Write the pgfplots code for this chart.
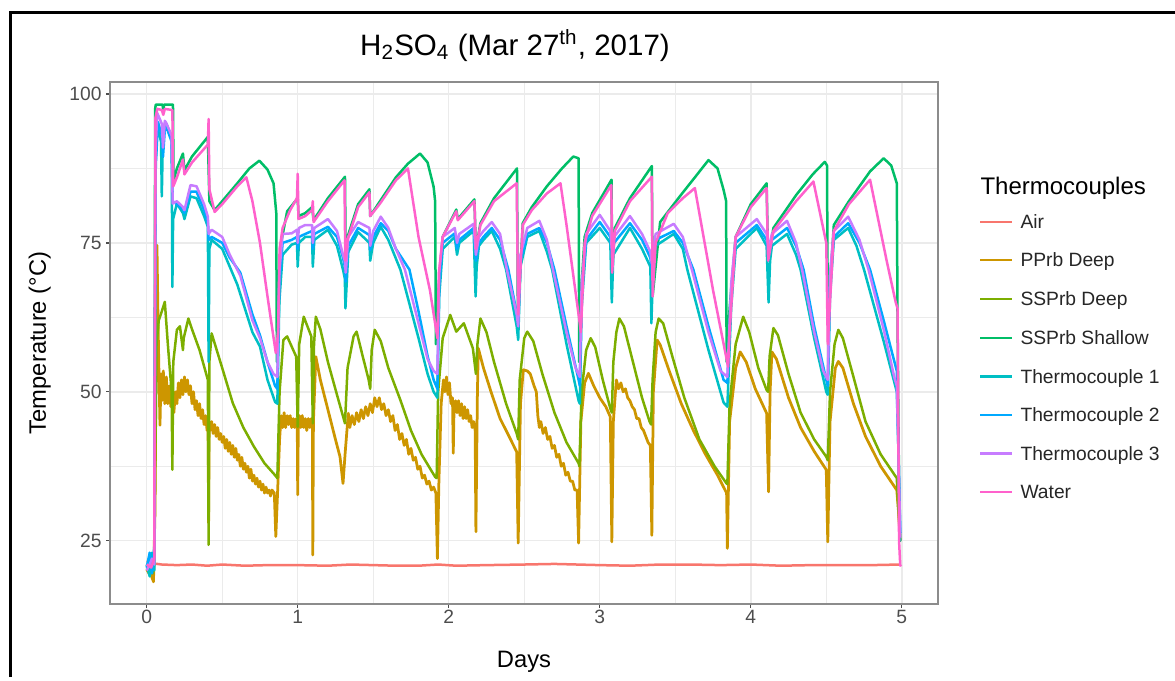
\documentclass[border=0pt]{standalone}
\usepackage{fontspec}
\setmainfont{Liberation Sans}
\usepackage{pgfplots}
\pgfplotsset{compat=1.18}

\definecolor{cAir}{HTML}{F8766D}
\definecolor{cPPrb}{HTML}{CD9600}
\definecolor{cSSDeep}{HTML}{7CAE00}
\definecolor{cSSShal}{HTML}{00BE67}
\definecolor{cTCa}{HTML}{00BFC4}
\definecolor{cTCb}{HTML}{00A9FF}
\definecolor{cTCc}{HTML}{C77CFF}
\definecolor{cWater}{HTML}{FF61CC}
\definecolor{gridc}{HTML}{EBEBEB}
\definecolor{borderc}{HTML}{8C8C8C}
\definecolor{tickc}{HTML}{4D4D4D}

\begin{document}
\begin{tikzpicture}
% frame of the picture, in pixel units (y downwards)
\begin{scope}[x=0.4pt,y=-0.4pt]
  \useasboundingbox (0,0) rectangle (1175,677);
  \draw[line width=1.2pt] (10,677) -- (10,12) -- (1175,12);
  \node[anchor=base, font=\fontsize{11.8}{13}\selectfont] at (515,55)
    {H\textsubscript{2}SO\textsubscript{4} (Mar 27\textsuperscript{th}, 2017)};
\end{scope}

\begin{axis}[
    at={(44pt,-241.6pt)}, anchor=south west,
    scale only axis, width=331.2pt, height=208.8pt,
    xmin=-0.243, xmax=5.24, ymin=14.37, ymax=102.01,
    xtick={0,1,2,3,4,5}, ytick={25,50,75,100},
    minor xtick={0.5,1.5,2.5,3.5,4.5}, minor ytick={37.5,62.5,87.5},
    grid=both,
    major grid style={color=gridc, line width=0.6pt},
    minor grid style={color=gridc, line width=0.3pt},
    axis line style={color=borderc, line width=0.7pt},
    tick align=outside, xtick pos=bottom, ytick pos=left,
    major tick length=1.6pt, minor tick length=0pt,
    tick style={color=tickc, line width=0.5pt},
    ticklabel style={font=\fontsize{7.7}{9}\selectfont, text=tickc},
    xticklabel style={inner sep=0.6pt},
    yticklabel style={inner sep=1.6pt},
    /pgf/number format/assume math mode=true,
    xlabel={Days}, ylabel={Temperature (\textdegree C)},
    label style={font=\fontsize{9.5}{11}\selectfont},
    xlabel style={at={(axis description cs:0.5,-0.1207)}, anchor=base},
    ylabel style={at={(axis description cs:-0.0773,0.5)}, anchor=base},
    every axis plot/.append style={line width=1.0pt, line join=round, mark=none},
]

% Air
\addplot[cAir] coordinates {
(0.00,21.6) (0.04,21.2) (0.10,21.0) (0.20,20.9) (0.30,21.0) (0.40,20.8) (0.50,21.0)
(0.65,20.8) (0.80,20.9) (1.00,20.9) (1.20,20.8) (1.35,21.0) (1.50,20.9) (1.65,20.8)
(1.80,20.8) (1.93,21.0) (2.05,20.8) (2.25,20.9) (2.50,21.0) (2.70,21.1) (2.85,21.0)
(3.00,20.9) (3.20,20.8) (3.40,21.0) (3.60,21.0) (3.80,20.9) (4.00,21.0) (4.20,20.8)
(4.40,20.9) (4.60,20.9) (4.80,20.9) (4.99,21.0)
};

% PPrb Deep
\addplot[cPPrb, line width=1.1pt] coordinates {
(0,20.2) (0.015,19.5) (0.03,19.2) (0.045,18.1) (0.055,30) (0.068,74.6) (0.075,62) (0.082,52)
(0.088,44.4) (0.095,53) (0.10,48.5) (0.11,53.5) (0.12,48) (0.13,52.5) (0.14,48) (0.15,51)
(0.16,47.5) (0.17,49.5) (0.18,46.5) (0.19,50) (0.20,48) (0.21,51.5) (0.22,49) (0.23,52)
(0.24,49.5) (0.25,52.5) (0.26,50) (0.27,52) (0.28,49.5) (0.29,51) (0.30,48) (0.31,50)
(0.32,47) (0.33,48.5) (0.34,46) (0.35,48) (0.36,45.5) (0.37,47) (0.38,44.5) (0.39,46)
(0.40,43.5) (0.406,45) (0.41,28) (0.414,45) (0.42,43.5) (0.43,45) (0.44,43) (0.45,44.5)
(0.46,42.5) (0.47,44) (0.48,42) (0.49,43) (0.50,41.5) (0.51,42.5) (0.52,40.5) (0.53,42)
(0.54,40) (0.55,41.5) (0.56,39.5) (0.57,41) (0.58,39) (0.59,40.5) (0.60,38.5) (0.61,39.5)
(0.62,37.5) (0.63,39) (0.64,37) (0.65,38) (0.66,36.5) (0.67,37.5) (0.68,35.5) (0.69,37)
(0.70,35) (0.71,36) (0.72,34.5) (0.73,35.5) (0.74,34) (0.75,35) (0.76,33.5) (0.77,34.5)
(0.78,33) (0.79,34) (0.80,33) (0.81,33.5) (0.82,32.5) (0.83,33.5) (0.845,33) (0.855,25.7)
(0.865,32) (0.88,42) (0.89,46) (0.90,44) (0.91,46.5) (0.92,44) (0.93,46) (0.94,44.5)
(0.95,46) (0.96,44) (0.97,45.5) (0.98,44) (0.99,45.5) (0.997,44.5) (1.0,32.7) (1.004,44.5)
(1.01,46) (1.02,44) (1.03,46) (1.04,44) (1.05,45.5) (1.06,43.5) (1.07,45.5) (1.08,44)
(1.09,45.5) (1.097,44.5) (1.1,22.6) (1.104,45) (1.12,55.9) (1.15,52) (1.2,47) (1.25,42)
(1.28,39.1) (1.3,34.6) (1.315,40) (1.335,46.4) (1.345,44) (1.36,46) (1.375,44.5) (1.39,46.5)
(1.405,45) (1.42,47) (1.435,45.5) (1.45,47.5) (1.465,46) (1.48,48) (1.495,46.5) (1.51,49)
(1.525,47.5) (1.54,49) (1.555,47) (1.57,48) (1.585,46) (1.6,47) (1.615,45) (1.63,46)
(1.645,43.5) (1.66,44.5) (1.675,42) (1.69,43) (1.705,41) (1.72,42) (1.735,39.5) (1.75,40.5)
(1.765,38.5) (1.78,39) (1.795,37) (1.81,37.5) (1.825,35.5) (1.84,36) (1.855,34.5) (1.87,35)
(1.885,33.5) (1.9,34) (1.915,33) (1.925,22) (1.935,35) (1.95,48) (1.965,52) (1.975,50)
(1.985,52.5) (1.995,49.5) (2.005,51.5) (2.015,48) (2.025,49) (2.03,39.7) (2.035,47) (2.045,48.5)
(2.055,46.5) (2.065,48.5) (2.075,46) (2.085,48) (2.095,45.5) (2.105,47.5) (2.115,45.5) (2.125,47)
(2.135,45) (2.145,46) (2.155,44) (2.165,45) (2.175,43.5) (2.18,26.5) (2.19,50) (2.196,57.3)
(2.23,54) (2.28,50) (2.34,45.5) (2.4,42.5) (2.45,39.9) (2.46,24.6) (2.475,48) (2.494,53.7)
(2.52,53.5) (2.54,53) (2.565,51) (2.58,50) (2.59,46) (2.6,44) (2.61,45) (2.625,43)
(2.64,44) (2.655,42) (2.67,42.5) (2.685,40.5) (2.7,41) (2.715,39) (2.73,39.5) (2.745,37.5)
(2.76,38) (2.775,36) (2.79,36.5) (2.805,35) (2.82,35) (2.835,33.5) (2.85,33.5) (2.86,24.6)
(2.875,45) (2.9,51.5) (2.925,53.1) (2.96,51) (3.0,49) (3.04,47.5) (3.07,45.8) (3.08,24.8)
(3.09,45) (3.11,52) (3.125,50.5) (3.14,51.5) (3.155,50) (3.17,50.5) (3.185,49) (3.2,48.5)
(3.215,47.5) (3.23,47) (3.245,45.5) (3.26,45.5) (3.275,44) (3.29,43.5) (3.305,42.5) (3.32,41.5)
(3.335,41) (3.345,25.9) (3.355,50) (3.38,58.7) (3.4,57.9) (3.46,53.5) (3.54,48) (3.62,43.5)
(3.7,39.5) (3.78,36) (3.84,33) (3.845,23.7) (3.86,45) (3.9,54) (3.93,56.7) (3.97,55)
(4.03,50.5) (4.105,46.4) (4.118,33.2) (4.128,50) (4.14,56.7) (4.17,55.5) (4.25,49) (4.33,44)
(4.42,40) (4.5,36.9) (4.51,24.8) (4.525,45) (4.56,54) (4.58,55.1) (4.61,54) (4.68,48)
(4.76,42.5) (4.86,37.5) (4.967,33.5) (4.978,30) (4.99,25)
};

% SSPrb Deep
\addplot[cSSDeep] coordinates {
(0,20.5) (0.04,19.5) (0.05,21) (0.065,58) (0.08,62) (0.1,63.5) (0.12,65.1) (0.14,58)
(0.165,50) (0.17,36.9) (0.176,55) (0.2,60.4) (0.22,61) (0.24,57) (0.245,59) (0.276,62.3)
(0.3,60.5) (0.35,57) (0.405,52) (0.41,24.3) (0.415,55) (0.43,59.8) (0.5,54) (0.57,48.1)
(0.64,44) (0.71,40.8) (0.78,38) (0.85,36) (0.865,35.5) (0.88,50) (0.905,58.7) (0.93,59.3)
(0.99,55.9) (1.0,44.1) (1.01,58) (1.04,62.6) (1.09,59.3) (1.1,44.7) (1.108,58) (1.12,62.6)
(1.15,60.5) (1.2,55) (1.26,49.5) (1.313,44.7) (1.33,54) (1.37,59.3) (1.39,60.1) (1.43,56)
(1.47,52) (1.48,50.5) (1.49,57) (1.51,60.4) (1.55,58.5) (1.6,54) (1.68,48.6) (1.75,43.5)
(1.82,39.5) (1.91,35.7) (1.92,35.5) (1.93,50) (1.96,59) (2.01,62.9) (2.05,60.1) (2.1,61.5)
(2.16,57.3) (2.18,53) (2.19,58) (2.21,62.3) (2.25,60) (2.3,55) (2.38,48) (2.45,43)
(2.46,42) (2.47,52) (2.5,59) (2.52,60.1) (2.56,58.5) (2.62,53) (2.7,46.5) (2.78,41.5)
(2.86,38) (2.865,37.5) (2.88,50) (2.91,57) (2.94,59) (2.97,57.5) (3.02,52) (3.07,47.2)
(3.08,46.5) (3.09,55) (3.11,60) (3.13,62.3) (3.16,61) (3.22,55) (3.28,49) (3.33,45)
(3.34,44.5) (3.35,52) (3.37,60) (3.39,62.3) (3.42,61.5) (3.48,56) (3.56,49) (3.66,42)
(3.76,37.5) (3.84,34.6) (3.845,34.5) (3.86,48) (3.9,58) (3.95,62.6) (3.99,60) (4.05,54)
(4.105,50.3) (4.115,50) (4.125,56) (4.15,60.7) (4.18,59.5) (4.25,53) (4.33,46.5) (4.42,42)
(4.5,39.1) (4.51,38.5) (4.525,50) (4.555,58) (4.58,60.4) (4.61,59) (4.68,52.5) (4.76,45)
(4.86,39.5) (4.967,35.5) (4.978,30) (4.99,25)
};

% SSPrb Shallow
\addplot[cSSShal] coordinates {
(0,21) (0.04,20) (0.05,23) (0.056,97.5) (0.06,98.2) (0.105,98.2) (0.11,97.2) (0.115,98.2)
(0.174,98.2) (0.178,85.5) (0.2,87.5) (0.24,90) (0.25,87.2) (0.3,89.5) (0.405,92.8) (0.415,82)
(0.45,80.5) (0.5,82) (0.6,85) (0.68,87.5) (0.746,88.8) (0.8,87.3) (0.84,85) (0.858,80)
(0.862,55) (0.875,64) (0.89,75) (0.93,80.3) (1.0,82.5) (1.005,79.5) (1.05,80) (1.095,81)
(1.105,78.8) (1.2,82.5) (1.313,86.1) (1.318,72) (1.33,76) (1.4,81.5) (1.475,84) (1.48,79.5)
(1.545,82) (1.65,86) (1.73,88.3) (1.81,90) (1.86,88.5) (1.9,84.4) (1.91,82) (1.915,58)
(1.935,68) (1.96,76) (2.05,80.6) (2.06,79) (2.17,82.3) (2.18,74) (2.21,78.3) (2.3,82.5)
(2.452,87.5) (2.458,62) (2.49,78.3) (2.55,81) (2.65,84.5) (2.75,87.5) (2.825,89.5) (2.86,89.2)
(2.864,55) (2.88,68) (2.9,76) (2.95,80) (3.078,85.6) (3.082,70) (3.1,77.5) (3.2,82.5)
(3.345,87.9) (3.35,66) (3.4,78.5) (3.53,82.8) (3.63,86) (3.72,88.9) (3.78,87.5) (3.82,83.9)
(3.837,82) (3.84,55) (3.86,64) (3.9,76) (4.0,81.5) (4.105,85) (4.115,72) (4.15,77.5)
(4.3,83) (4.41,86.5) (4.49,88.6) (4.505,88) (4.51,62) (4.55,78) (4.65,82) (4.79,87)
(4.88,89.2) (4.93,88) (4.967,85) (4.972,62) (4.985,25) (4.995,25)
};

% Thermocouple 1
\addplot[cTCa] coordinates {
(0,21) (0.02,19) (0.035,23) (0.05,20) (0.058,88) (0.07,94.5) (0.095,92) (0.1,82.8)
(0.108,94) (0.13,95) (0.165,92.8) (0.17,67.6) (0.175,79) (0.2,81.6) (0.24,80) (0.25,79)
(0.29,82.8) (0.33,82.5) (0.38,79.5) (0.405,77.7) (0.41,55) (0.415,74) (0.43,75.5) (0.5,74)
(0.55,71) (0.6,68) (0.7,60) (0.75,57.6) (0.8,52) (0.85,48.3) (0.865,48) (0.878,65)
(0.9,73) (0.96,74.7) (0.995,75) (1.0,71) (1.008,75) (1.05,76) (1.095,76) (1.1,71)
(1.11,75.5) (1.2,77.2) (1.26,74.5) (1.3,70.5) (1.312,69) (1.316,64) (1.322,67) (1.335,73.5)
(1.4,76.8) (1.475,75) (1.48,72) (1.5,75) (1.55,77.7) (1.6,75.5) (1.68,70.5) (1.8,59)
(1.86,53) (1.9,50) (1.925,49) (1.937,66) (1.96,74) (2.04,76) (2.055,73) (2.07,75)
(2.165,77) (2.178,66) (2.185,71) (2.2,74.5) (2.23,75.5) (2.285,77) (2.34,74) (2.38,70.5)
(2.45,61) (2.46,58.7) (2.475,71) (2.52,76) (2.6,77) (2.65,73.5) (2.685,70.5) (2.78,58)
(2.86,48.5) (2.868,48) (2.88,64) (2.91,75) (3.0,77.5) (3.07,75) (3.08,65) (3.09,73)
(3.2,77.5) (3.28,74) (3.335,71) (3.342,61.5) (3.35,68) (3.37,74.5) (3.49,76.5) (3.55,74)
(3.58,70.5) (3.72,57) (3.82,48.2) (3.845,47.5) (3.87,64) (3.9,74) (4.04,77.5) (4.105,74.5)
(4.118,65) (4.128,72) (4.14,74.5) (4.24,76.5) (4.3,73) (4.33,70.5) (4.42,59) (4.5,50)
(4.51,49.5) (4.525,66) (4.55,75.5) (4.645,77.5) (4.7,74.5) (4.75,70.5) (4.88,58.5) (4.967,50)
(4.978,40) (4.99,25)
};

% Thermocouple 2
\addplot[cTCb] coordinates {
(0,20.5) (0.02,23) (0.035,19.5) (0.05,24) (0.06,88) (0.075,95.3) (0.1,93) (0.108,89.5)
(0.12,94) (0.13,94.5) (0.165,92) (0.172,82) (0.2,81.5) (0.24,80.6) (0.25,80) (0.29,83.6)
(0.33,83.6) (0.38,80.5) (0.405,78.3) (0.41,75.5) (0.43,76) (0.5,75) (0.55,72.5) (0.62,70)
(0.7,63) (0.75,59.5) (0.8,55) (0.85,51) (0.865,50.5) (0.878,68) (0.9,75) (0.96,75.5)
(0.995,76) (1.0,74) (1.008,76) (1.05,76.5) (1.095,77) (1.1,74) (1.11,76.5) (1.2,77.7)
(1.26,76) (1.3,72.5) (1.312,71) (1.318,68.5) (1.335,74.5) (1.4,77.5) (1.475,76.3) (1.48,73.8)
(1.5,76) (1.55,78.3) (1.6,77) (1.65,74) (1.74,70.5) (1.8,63.5) (1.86,56) (1.9,52)
(1.925,50.5) (1.937,68) (1.96,75) (2.04,76.6) (2.055,74) (2.07,75.5) (2.165,77.5) (2.18,72)
(2.2,75) (2.23,76) (2.285,77.5) (2.34,75.5) (2.395,70.5) (2.45,63.2) (2.46,61) (2.475,72)
(2.52,76.5) (2.6,77.5) (2.65,75) (2.70,70.5) (2.78,61) (2.86,52) (2.868,51) (2.88,66)
(2.91,75.5) (3.0,78.5) (3.07,76) (3.08,73) (3.095,75) (3.2,78.3) (3.28,75.5) (3.335,72.5)
(3.345,70.5) (3.37,75.5) (3.49,77) (3.55,75) (3.62,70.5) (3.72,61) (3.82,52) (3.845,51.5)
(3.87,66) (3.9,75) (4.04,78) (4.105,75.5) (4.118,73) (4.14,75.5) (4.24,77.5) (4.3,74.5)
(4.35,70.5) (4.42,61) (4.5,52) (4.51,51) (4.525,68) (4.55,76) (4.645,78.3) (4.72,75)
(4.79,70.5) (4.88,62) (4.967,53.5) (4.978,40) (4.99,26.3)
};

% Thermocouple 3
\addplot[cTCc] coordinates {
(0,20) (0.02,21) (0.035,22) (0.05,21) (0.058,90) (0.07,96.8) (0.1,95) (0.108,91)
(0.12,95.5) (0.13,95.1) (0.165,93) (0.172,81.6) (0.2,82) (0.24,81) (0.25,80.5) (0.29,84.7)
(0.33,84.5) (0.38,81.5) (0.405,79.4) (0.41,76.5) (0.43,77.2) (0.5,76) (0.55,73) (0.62,69.5)
(0.7,62) (0.75,59) (0.8,55) (0.84,53) (0.865,52.5) (0.878,70) (0.9,76.5) (0.96,76.6)
(0.995,77.2) (1.0,75) (1.008,77.5) (1.05,78) (1.095,78) (1.1,75) (1.11,77.5) (1.2,79)
(1.26,77) (1.3,73) (1.312,72) (1.318,70) (1.335,76) (1.4,78.5) (1.475,77.5) (1.48,74.5)
(1.5,77) (1.55,79.4) (1.6,77.5) (1.65,74) (1.71,70.5) (1.8,61.5) (1.86,55.5) (1.9,53.5)
(1.925,53) (1.937,70) (1.96,76) (2.04,77.5) (2.055,75) (2.07,76.5) (2.165,78.2) (2.18,73)
(2.2,76) (2.23,77) (2.285,78.5) (2.34,76.5) (2.385,70.5) (2.45,63) (2.46,61) (2.475,73)
(2.52,77.5) (2.6,78.7) (2.65,75.5) (2.69,70.5) (2.78,60) (2.84,54) (2.868,52.5) (2.88,68)
(2.91,76.5) (3.0,79.7) (3.07,77) (3.08,74) (3.095,76) (3.2,79.5) (3.28,76.5) (3.335,73.5)
(3.345,71.5) (3.37,76.5) (3.49,78.2) (3.55,76) (3.61,70.5) (3.72,60) (3.8,53.5) (3.845,52.5)
(3.87,68) (3.9,76) (4.04,79) (4.105,76.5) (4.118,74) (4.14,76.5) (4.24,78.7) (4.3,75)
(4.34,70.5) (4.42,60) (4.48,53.5) (4.51,52) (4.525,70) (4.55,77) (4.645,79.4) (4.72,75.5)
(4.78,70.5) (4.88,60.5) (4.95,52.5) (4.967,51) (4.978,40) (4.99,25.5)
};

% Water
\addplot[cWater] coordinates {
(0,21) (0.03,20.5) (0.05,22) (0.058,96) (0.07,97.5) (0.1,97.3) (0.11,96.5) (0.12,97.5)
(0.17,97.3) (0.176,84.5) (0.2,86) (0.24,89) (0.25,86.5) (0.3,88.5) (0.405,91.5) (0.41,95.8)
(0.415,84) (0.45,80.2) (0.5,81.5) (0.55,83) (0.6,84.5) (0.66,86) (0.7,82) (0.75,75)
(0.8,66) (0.855,56.5) (0.87,60) (0.88,74) (0.9,77.5) (0.95,80.5) (0.995,82.5) (1.0,86.6)
(1.005,79) (1.05,79.5) (1.095,80.5) (1.1,82) (1.105,78.5) (1.2,82) (1.31,85.5) (1.315,72)
(1.33,75.5) (1.4,81) (1.475,83.5) (1.48,79.5) (1.545,81.6) (1.65,85.5) (1.73,87.5) (1.8,76)
(1.876,67) (1.925,59) (1.935,70) (1.96,76) (2.05,80.3) (2.06,78.8) (2.17,82) (2.18,74)
(2.21,78) (2.3,82) (2.45,85) (2.46,63) (2.49,78) (2.55,80.5) (2.65,83.3) (2.74,85)
(2.78,78) (2.865,62) (2.875,60) (2.9,75) (2.95,79.5) (3.077,84.7) (3.082,70) (3.1,77)
(3.2,82) (3.345,86.1) (3.35,66) (3.37,75) (3.45,80) (3.55,82.5) (3.63,84.2) (3.75,67.1)
(3.85,54.2) (3.86,60) (3.9,76) (4.0,81) (4.105,84.2) (4.115,72) (4.15,77) (4.3,82)
(4.415,85.3) (4.5,75) (4.51,58) (4.55,77) (4.65,81.5) (4.79,85.6) (4.9,72) (4.96,65)
(4.972,64) (4.982,25) (4.99,20.8) (4.995,21)
};
\end{axis}

% legend, in pixel units (y downwards)
\begin{scope}[x=0.4pt,y=-0.4pt]
  \node[anchor=base west, inner sep=0pt, font=\fontsize{9.6}{11}\selectfont] at (980,194.5) {Thermocouples};
  \foreach \yy/\cc/\lab in {222/cAir/Air, 260/cPPrb/PPrb Deep, 299/cSSDeep/SSPrb Deep,
      338/cSSShal/SSPrb Shallow, 376.5/cTCa/Thermocouple 1, 415/cTCb/Thermocouple 2,
      453.5/cTCc/Thermocouple 3, 492/cWater/Water} {
    \draw[\cc, line width=1.0pt] (980,\yy) -- (1012,\yy);
    \node[anchor=base west, inner sep=0pt, text=black!85, font=\fontsize{7.7}{9}\selectfont] at (1020,\yy+6.8) {\lab};
  }
\end{scope}
\end{tikzpicture}
\end{document}
